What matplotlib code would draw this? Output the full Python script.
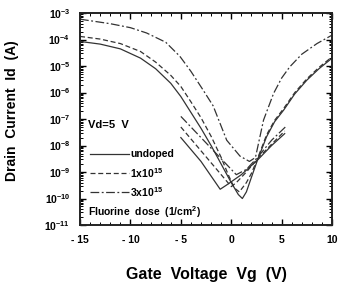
import matplotlib
matplotlib.use("Agg")
import matplotlib.pyplot as plt
import numpy as np
from matplotlib.ticker import LogLocator, MultipleLocator, NullFormatter, FuncFormatter

plt.rcParams['font.family'] = ['Liberation Sans', 'DejaVu Sans']
plt.rcParams['mathtext.fontset'] = 'custom'
plt.rcParams['mathtext.rm'] = 'Liberation Sans:bold'
plt.rcParams['mathtext.it'] = 'Liberation Sans:bold'
plt.rcParams['mathtext.bf'] = 'Liberation Sans:bold'

# Data: gate voltage (V) and log10 of drain current (A)
undoped_vg = [-15, -13, -11, -9, -7.5, -6, -5, -4, -3, -2, -1, 0, 0.7, 1.1, 1.5, 2.0, 2.6, 3.5, 4.3, 5.2, 6.3, 7.5, 8.7, 10]
undoped_log = [-4.07, -4.17, -4.35, -4.7, -5.1, -5.65, -6.15, -6.75, -7.35, -8.0, -8.7, -9.4, -9.85, -10.0, -9.75, -9.2, -8.55, -7.67, -7.1, -6.66, -6.05, -5.53, -5.1, -4.7]

dose1_vg = [-15, -13, -11, -9, -7.5, -6, -5, -4, -3, -2, -1, -0.3, 0.3, 0.8, 1.5, 2.0, 2.6, 3.5, 4.3, 5.2, 6.3, 7.5, 8.7, 10]
dose1_log = [-3.88, -3.98, -4.15, -4.45, -4.85, -5.35, -5.77, -6.35, -6.95, -7.65, -8.45, -9.1, -9.6, -9.75, -9.4, -9.05, -8.5, -7.6, -7.05, -6.6, -6.0, -5.48, -5.05, -4.65]

dose3_vg = [-15, -12, -10, -8.4, -6.5, -5.1, -4, -2.8, -1.8, -0.45, 0.87, 1.8, 2.4, 3.2, 4.2, 5.0, 5.8, 7.0, 8.5, 10]
dose3_log = [-3.23, -3.4, -3.55, -3.75, -4.1, -4.63, -5.2, -5.9, -6.5, -7.8, -8.4, -8.6, -8.45, -7.04, -6.03, -5.45, -5.03, -4.55, -4.15, -3.83]

# Second sweep branches
undoped2_vg = [-5, -3, -1.1, -0.5, 1.0, 2.6, 4.0, 5.3]
undoped2_log = [-7.7, -8.6, -9.65, -9.5, -9.1, -8.55, -8.0, -7.55]
dose1b_vg = [-5, -3, -1, 0, 0.5, 1.5, 2.6, 4.0, 5.3]
dose1b_log = [-7.3, -8.2, -9.1, -9.55, -9.4, -9.0, -8.5, -7.95, -7.45]
dose3b_vg = [-5, -3, -1, 0.5, 1.5, 2.6, 4.0, 5.5]
dose3b_log = [-6.9, -7.7, -8.5, -9.1, -8.9, -8.45, -7.8, -7.25]

xticks = [-15, -10, -5, 0, 5, 10]
legend_labels = ['undoped', r'1x10$^{15}$', r'3x10$^{15}$']

fig = plt.figure(figsize=(3.42, 2.85), dpi=100)
ax = fig.add_axes([0.234, 0.2105, 0.737, 0.7435])

c = '#333333'
lw = 0.9
dash = (0, (4, 2.2))
dashdot = (0, (7, 2, 1.5, 2))
ax.plot(undoped_vg, 10 ** np.array(undoped_log), color=c, lw=lw, ls='-')
ax.plot(dose1_vg, 10 ** np.array(dose1_log), color=c, lw=lw, ls=dash)
ax.plot(dose3_vg, 10 ** np.array(dose3_log), color=c, lw=lw, ls=dashdot)
ax.plot(undoped2_vg, 10 ** np.array(undoped2_log), color=c, lw=lw, ls='-')
ax.plot(dose1b_vg, 10 ** np.array(dose1b_log), color=c, lw=lw, ls=dash)
ax.plot(dose3b_vg, 10 ** np.array(dose3b_log), color=c, lw=lw, ls=dashdot)

ax.set_yscale('log')
ax.set_xlim(-15, 10)
ax.set_ylim(1e-11, 1e-3)
ax.set_xticks(xticks)
ax.xaxis.set_minor_locator(MultipleLocator(1))
ax.yaxis.set_major_locator(LogLocator(base=10, numticks=20))
ax.yaxis.set_minor_locator(LogLocator(base=10, subs=np.arange(2, 10), numticks=20))
ax.yaxis.set_minor_formatter(NullFormatter())
ax.yaxis.set_major_formatter(FuncFormatter(lambda v, p: r'$\mathdefault{10^{%d}}$' % round(np.log10(v))))
ax.xaxis.set_major_formatter(FuncFormatter(lambda v, p: ('- %d' % abs(v)) if v < 0 else '%d' % v))

ax.tick_params(which='both', direction='in', top=True, right=True)
ax.tick_params(which='major', length=4, width=1.0, labelsize=7.5, pad=7)
ax.tick_params(which='minor', length=2, width=0.7)
for lab in ax.get_xticklabels() + ax.get_yticklabels():
    lab.set_fontweight('bold')
for s in ax.spines.values():
    s.set_linewidth(1.4)
    s.set_color('#222222')

ax.set_xlabel('Gate  Voltage  Vg  (V)', fontsize=11.5, fontweight='bold')
ax.xaxis.set_label_coords(0.5, -0.2)
ax.set_ylabel('Drain  Current  Id  (A)', fontsize=10, fontweight='bold')
ax.yaxis.set_label_coords(-0.242, 0.54)

# Annotation and legend drawn in axes coordinates
ax.text(0.03, 0.47, 'Vd=5  V', transform=ax.transAxes, fontsize=8, fontweight='bold', va='center')
leg_y = [0.335, 0.245, 0.155]
styles = ['-', dash, dashdot]
for yy, st, lab in zip(leg_y, styles, legend_labels):
    ax.plot([0.04, 0.195], [yy, yy], transform=ax.transAxes, color=c, lw=lw, ls=st)
    ax.text(0.198, yy, lab, transform=ax.transAxes, fontsize=7.5, fontweight='bold', va='center')
ax.text(0.03, 0.062, r'Fluorine  dose  (1/cm$^{2}$)', transform=ax.transAxes, fontsize=7.5, fontweight='bold', va='center')

fig.savefig('out.png', dpi=100)
